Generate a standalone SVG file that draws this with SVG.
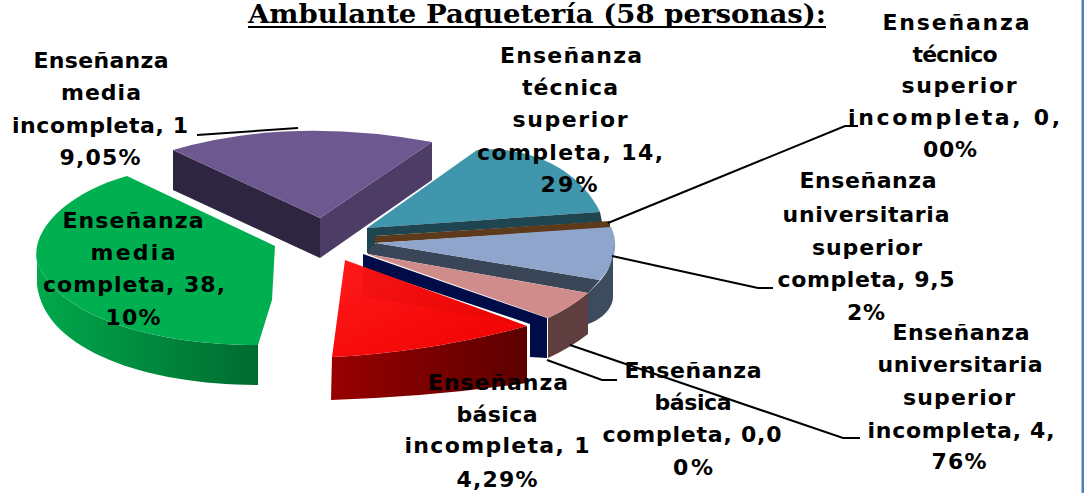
<svg xmlns="http://www.w3.org/2000/svg" width="1084" height="493" viewBox="0 0 1084 493">
<style>
.lb{font-family:"DejaVu Sans","Liberation Sans",sans-serif;font-weight:bold;font-size:22px;fill:#000;text-anchor:middle}
.ttl{font-family:"DejaVu Serif","Liberation Serif",serif;font-weight:bold;font-size:26px;fill:#000}
.ld{fill:none;stroke:#000;stroke-width:2}
</style>
<defs>
<linearGradient id="gside" x1="0" y1="0" x2="1" y2="0">
<stop offset="0" stop-color="#00a84b"/><stop offset="1" stop-color="#006b30"/>
</linearGradient>
<linearGradient id="rside" x1="0" y1="0" x2="1" y2="0">
<stop offset="0" stop-color="#980000"/><stop offset="1" stop-color="#5c0000"/>
</linearGradient>
<linearGradient id="rtop" x1="0" y1="0" x2="1" y2="1">
<stop offset="0" stop-color="#ff1a1a"/><stop offset="1" stop-color="#f00000"/>
</linearGradient>
</defs>
<rect width="1084" height="493" fill="#fff"/>
<rect x="1081.5" y="0" width="2.5" height="493" fill="#4f81bd"/>

<g id="title">
<text class="ttl" x="248" y="23" textLength="578" lengthAdjust="spacingAndGlyphs">Ambulante Paquetería (58 personas):</text>
<line x1="248" y1="27" x2="826" y2="27" stroke="#000" stroke-width="2"/>
</g>

<g id="media-incompleta">
<path d="M173,150 L320,218 L320,258 L173,190 Z" fill="#2e2640"/>
<path d="M320,218 L432,142 L432,180 L320,258 Z" fill="#4d3d66"/>
<path d="M173,150 Q290,116 432,142 L320,218 Z" fill="#6e5890"/>
<text class="lb" x="101" y="68" textLength="135" lengthAdjust="spacing">Enseñanza</text>
<text class="lb" x="101" y="100" textLength="80" lengthAdjust="spacing">media</text>
<text class="lb" x="100" y="133" textLength="176" lengthAdjust="spacing">incompleta, 1</text>
<text class="lb" x="100" y="165" textLength="81" lengthAdjust="spacing">9,05%</text>
</g>

<g id="media-completa">
<path d="M37,262 C60,320 160,345 258,345 L258,385 C150,385 45,352 37,285 Z" fill="url(#gside)"/>
<path d="M127,176 L275,246 L272,300 L258,345 C160,345 60,320 37,262 C30,228 70,192 127,176 Z" fill="#00b050"/>
<text class="lb" x="133" y="228" textLength="141" lengthAdjust="spacing">Enseñanza</text>
<text class="lb" x="133" y="260" textLength="85" lengthAdjust="spacing">media</text>
<text class="lb" x="134" y="292" textLength="182" lengthAdjust="spacing">completa, 38,</text>
<text class="lb" x="133" y="325" textLength="55" lengthAdjust="spacing">10%</text>
</g>

<g id="tecnica-completa">
<path d="M367,228 L477,150 C530,145 580,170 600,212 Z" fill="#4097ad"/>
<path d="M367,228 L600,212 L602,222 L375,236 L375,252 L367,253 Z" fill="#1e4550"/>
<text class="lb" x="571" y="63" textLength="142" lengthAdjust="spacing">Enseñanza</text>
<text class="lb" x="570" y="95" textLength="96" lengthAdjust="spacing">técnica</text>
<text class="lb" x="570" y="127" textLength="115" lengthAdjust="spacing">superior</text>
<text class="lb" x="570" y="160" textLength="186" lengthAdjust="spacing">completa, 14,</text>
<text class="lb" x="569" y="192" textLength="57" lengthAdjust="spacing">29%</text>
</g>

<g id="tecnico-incompleta">
<path d="M375,236 L610,221 L610,228 L375,243 Z" fill="#5c3a1b"/>
<text class="lb" x="956" y="30" textLength="147" lengthAdjust="spacing">Enseñanza</text>
<text class="lb" x="955" y="62" textLength="85" lengthAdjust="spacing">técnico</text>
<text class="lb" x="959" y="93" textLength="115" lengthAdjust="spacing">superior</text>
<text class="lb" x="954" y="125" textLength="212" lengthAdjust="spacing">incompleta, 0,</text>
<text class="lb" x="950" y="157" textLength="54" lengthAdjust="spacing">00%</text>
</g>

<g id="universitaria-completa">
<path d="M368,250 L376,243 L600,280 L588,293 L368,254 Z" fill="#3a4658"/>
<path d="M376,243 L611,227 C620,245 614,265 600,280 Z" fill="#8fa5cc"/>
<path d="M600,281 C610,270 614,258 613,245 L613,298 C612,310 600,320 588,324 L588,293 Z" fill="#3d4b5e"/>
<text class="lb" x="868" y="188" textLength="137" lengthAdjust="spacing">Enseñanza</text>
<text class="lb" x="866" y="222" textLength="167" lengthAdjust="spacing">universitaria</text>
<text class="lb" x="867" y="255" textLength="110" lengthAdjust="spacing">superior</text>
<text class="lb" x="866" y="287" textLength="177" lengthAdjust="spacing">completa, 9,5</text>
<text class="lb" x="866" y="320" textLength="38" lengthAdjust="spacing">2%</text>
</g>

<g id="universitaria-incompleta">
<path d="M548,318 Q570,308 588,293 L588,334 Q570,348 548,358 Z" fill="#5e3e3e"/>
<path d="M367,254 L588,293 Q570,308 548,318 Z" fill="#d08c8a"/>
<text class="lb" x="961" y="340" textLength="137" lengthAdjust="spacing">Enseñanza</text>
<text class="lb" x="960" y="372" textLength="165" lengthAdjust="spacing">universitaria</text>
<text class="lb" x="959" y="405" textLength="112" lengthAdjust="spacing">superior</text>
<text class="lb" x="961" y="438" textLength="187" lengthAdjust="spacing">incompleta, 4,</text>
<text class="lb" x="959" y="469" textLength="55" lengthAdjust="spacing">76%</text>
</g>

<g id="basica-completa">
<path d="M363,254 L547,318 L547,358 L530,357 L530,324 L363,268 Z" fill="#000c48"/>
<text class="lb" x="693" y="378" textLength="137" lengthAdjust="spacing">Enseñanza</text>
<text class="lb" x="693" y="410" textLength="77" lengthAdjust="spacing">básica</text>
<text class="lb" x="692" y="442" textLength="179" lengthAdjust="spacing">completa, 0,0</text>
<text class="lb" x="693" y="475" textLength="40" lengthAdjust="spacing">0%</text>
</g>

<g id="basica-incompleta">
<path d="M332,357 Q430,352 527,326 L527,383 Q430,397 331,400 Z" fill="url(#rside)"/>
<path d="M345,260 L527,326 Q430,352 332,357 Z" fill="url(#rtop)"/>
<path d="M363,267 L527,326 L363,296 Z" fill="#c00000" fill-opacity="0.15"/>
<text class="lb" x="498" y="390" textLength="140" lengthAdjust="spacing">Enseñanza</text>
<text class="lb" x="497" y="422" textLength="81" lengthAdjust="spacing">básica</text>
<text class="lb" x="497" y="453" textLength="185" lengthAdjust="spacing">incompleta, 1</text>
<text class="lb" x="497" y="487" textLength="81" lengthAdjust="spacing">4,29%</text>
</g>

<g id="connectors">
<polyline class="ld" points="197,135 298,128"/>
<polyline class="ld" points="608,223 845,126 858,126"/>
<polyline class="ld" points="612,256 758,288 773,288"/>
<polyline class="ld" points="570,345 843,438 860,438"/>
<polyline class="ld" points="547,360 602,380 617,380"/>
</g>
</svg>
